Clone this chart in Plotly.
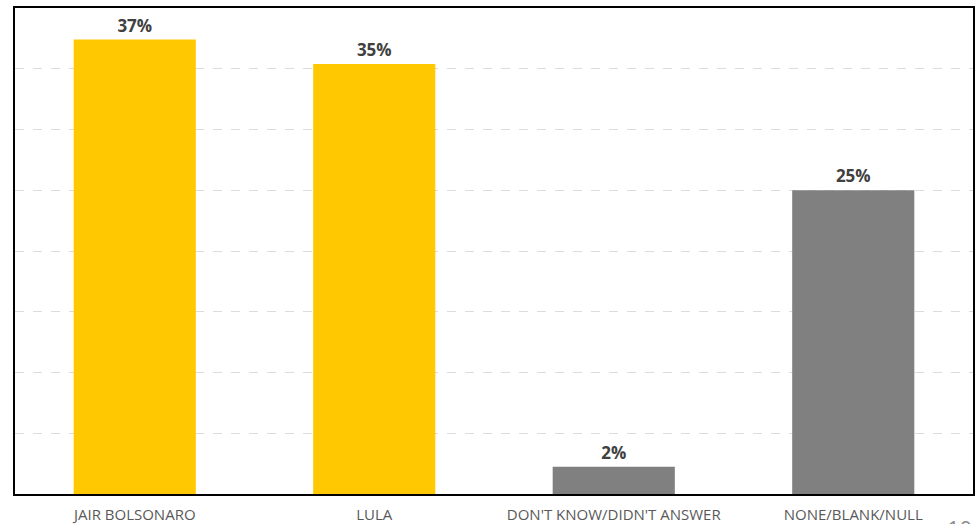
import plotly.graph_objects as go

categories = ["JAIR BOLSONARO", "LULA", "DON'T KNOW/DIDN'T ANSWER", "NONE/BLANK/NULL"]
values = [37.4, 35.4, 2.25, 25.0]
labels = ["37%", "35%", "2%", "25%"]
colors = ["#FFC800", "#FFC800", "#808080", "#808080"]

fig = go.Figure()
fig.add_trace(go.Bar(
    x=categories, y=values, text=labels, textposition="outside",
    marker=dict(color=colors, line=dict(width=0)),
    width=0.51,
    textfont=dict(family="Open Sans, Lato, sans-serif", size=17, color="#404040", weight="bold"),
    cliponaxis=False,
))
fig.update_layout(
    width=976, height=524,
    margin=dict(l=15, r=3, t=8, b=30, autoexpand=False),
    plot_bgcolor="white", paper_bgcolor="white",
    showlegend=False,
    xaxis=dict(showline=True, linecolor="black", linewidth=1.5, mirror=True,
               tickfont=dict(family="Open Sans, Lato, sans-serif", size=15, color="#595959"),
               ticks="outside", ticklen=6, tickcolor="rgba(0,0,0,0)", automargin=False),
    yaxis=dict(range=[0, 40], dtick=5, showticklabels=False, showline=True,
               linecolor="black", linewidth=1.5, mirror=True,
               showgrid=True, gridcolor="#DCDCDC", griddash="dash", gridwidth=1,
               zeroline=False, automargin=False),
    annotations=[dict(text="10", xref="paper", yref="paper", x=0.986, y=-0.036,
                      xanchor="center", yanchor="top", showarrow=False,
                      font=dict(family="Open Sans, sans-serif", size=22, color="#8C8C8C"))],
)
fig.write_html("out.html", config={"displayModeBar": False},
               post_script="document.body.style.margin='0';document.body.style.overflow='hidden';")
